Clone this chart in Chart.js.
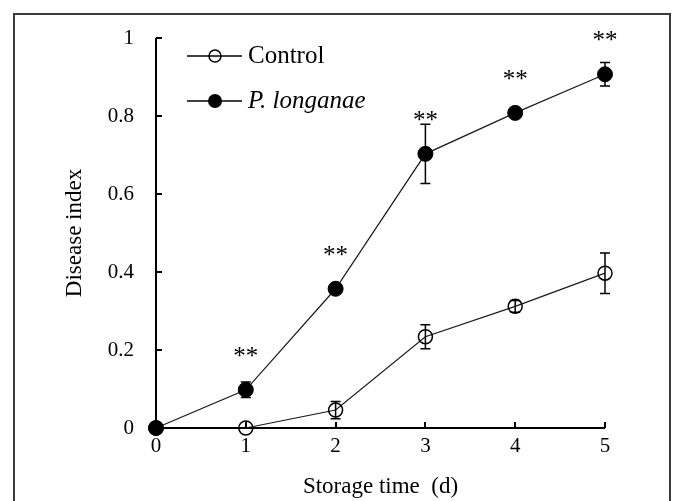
<!DOCTYPE html>
<html>
<head>
<meta charset="utf-8">
<script src="https://cdn.jsdelivr.net/npm/chart.js@4.4.1/dist/chart.umd.min.js"></script>
<style>
html, body { margin: 0; padding: 0; background: #fff; }
#wrap { position: relative; width: 673px; height: 501px; overflow: hidden; }
#frame { position: absolute; left: 13px; top: 13px; width: 658px; height: 540px; border: 2px solid #3a3a3a; box-sizing: border-box; pointer-events: none; }
canvas { position: absolute; left: 0; top: 0; }
</style>
</head>
<body>
<div id="wrap">
  <canvas id="myChart" width="673" height="501"></canvas>
  <div id="frame"></div>
</div>
<script>
// Dados
const days = [0, 1, 2, 3, 4, 5];
const controlMean = [0, 0, 0.046, 0.234, 0.312, 0.397];
const controlErr = [0, 0, 0.022, 0.031, 0.015, 0.052];
const longanaeMean = [0, 0.098, 0.357, 0.703, 0.808, 0.907];
const longanaeErr = [0, 0.02, 0.01, 0.076, 0.008, 0.03];
const signif = ['', '**', '**', '**', '**', '**'];
const yTicks = [0, 0.2, 0.4, 0.6, 0.8, 1];
const yTickLabels = ['0', '0.2', '0.4', '0.6', '0.8', '1'];
const seriesNames = ['Control', 'P. longanae'];
const xTitle = 'Storage time  (d)';
const yTitle = 'Disease index';

const serif = "'Liberation Serif', 'Times New Roman', serif";

function pontos(means) {
    return days.map((d, i) => ({ x: d, y: means[i] }));
}

// Barras de erro
const errorBars = {
    id: 'errorBars',
    afterDatasetsDraw(chart) {
        const ctx = chart.ctx;
        const y = chart.scales.y;
        const errs = [controlErr, longanaeErr];
        const means = [controlMean, longanaeMean];
        ctx.save();
        ctx.strokeStyle = '#000';
        ctx.lineWidth = 1.5;
        chart.data.datasets.forEach((ds, k) => {
            const meta = chart.getDatasetMeta(k);
            meta.data.forEach((pt, i) => {
                const e = errs[k][i];
                if (!e) return;
                const top = y.getPixelForValue(means[k][i] + e);
                const bot = y.getPixelForValue(means[k][i] - e);
                ctx.beginPath();
                ctx.moveTo(pt.x, top); ctx.lineTo(pt.x, bot);
                ctx.moveTo(pt.x - 5, top); ctx.lineTo(pt.x + 5, top);
                ctx.moveTo(pt.x - 5, bot); ctx.lineTo(pt.x + 5, bot);
                ctx.stroke();
            });
        });
        // asteriscos
        ctx.fillStyle = '#000';
        ctx.font = '25px ' + serif;
        ctx.textAlign = 'center';
        ctx.textBaseline = 'alphabetic';
        chart.getDatasetMeta(1).data.forEach((pt, i) => {
            if (signif[i]) ctx.fillText(signif[i], pt.x, pt.y - 26);
        });
        ctx.restore();
    }
};

// Eixos com ticks para dentro, títulos e legenda
const axesAndLegend = {
    id: 'axesAndLegend',
    afterDraw(chart) {
        const ctx = chart.ctx;
        const a = chart.chartArea;
        const xs = chart.scales.x, ys = chart.scales.y;
        ctx.save();
        ctx.strokeStyle = '#000';
        ctx.lineWidth = 2;
        ctx.beginPath();
        ctx.moveTo(a.left, ys.getPixelForValue(1));
        ctx.lineTo(a.left, a.bottom);
        ctx.lineTo(a.right, a.bottom);
        yTicks.forEach(v => {
            const p = Math.round(ys.getPixelForValue(v));
            ctx.moveTo(a.left, p); ctx.lineTo(a.left + 6, p);
        });
        days.forEach(d => {
            const p = Math.round(xs.getPixelForValue(d));
            ctx.moveTo(p, a.bottom); ctx.lineTo(p, a.bottom - 6);
        });
        ctx.stroke();

        // títulos
        ctx.fillStyle = '#000';
        ctx.font = '23px ' + serif;
        ctx.textAlign = 'center';
        ctx.textBaseline = 'middle';
        ctx.fillText(xTitle, (a.left + a.right) / 2, 487);
        ctx.save();
        ctx.translate(75, (a.top + a.bottom) / 2);
        ctx.rotate(-Math.PI / 2);
        ctx.fillText(yTitle, 0, 0);
        ctx.restore();

        // legenda
        const rows = [56, 101];
        rows.forEach((ry, k) => {
            ctx.lineWidth = 1.3;
            ctx.strokeStyle = '#000';
            ctx.beginPath();
            ctx.moveTo(187, ry); ctx.lineTo(242, ry);
            ctx.stroke();
            ctx.beginPath();
            ctx.arc(215, ry, k === 0 ? 6 : 7, 0, Math.PI * 2);
            if (k === 1) { ctx.fillStyle = '#000'; ctx.fill(); }
            else { ctx.lineWidth = 1.5; ctx.stroke(); }
            ctx.fillStyle = '#000';
            ctx.font = (k === 1 ? 'italic ' : '') + '25px ' + serif;
            ctx.textAlign = 'left';
            ctx.textBaseline = 'middle';
            ctx.fillText(seriesNames[k], 248, ry);
        });
        ctx.restore();
    }
};

const ctx = document.getElementById('myChart');

const data = {
    datasets: [{
        label: seriesNames[0],
        data: pontos(controlMean),
        borderColor: '#1a1a1a',
        borderWidth: 1.2,
        pointRadius: 7,
        pointBackgroundColor: 'rgba(0,0,0,0)',
        pointBorderColor: '#000',
        pointBorderWidth: 1.5,
        clip: false
    }, {
        label: seriesNames[1],
        data: pontos(longanaeMean),
        borderColor: '#1a1a1a',
        borderWidth: 1.2,
        pointRadius: 7.5,
        pointBackgroundColor: '#000',
        pointBorderColor: '#000',
        pointBorderWidth: 1,
        clip: false
    }]
};

const config = {
    type: 'line',
    data: data,
    options: {
        responsive: false,
        animation: false,
        layout: { padding: { left: 0, top: 38, right: 68, bottom: 0 } },
        plugins: { legend: { display: false }, tooltip: { enabled: false } },
        scales: {
            x: {
                type: 'linear', min: 0, max: 5,
                grid: { display: false, drawTicks: false },
                border: { display: false },
                ticks: { stepSize: 1, padding: 6, color: '#000', font: { family: serif, size: 21 } },
                afterFit: s => { s.height = 73; }
            },
            y: {
                min: 0, max: 1,
                afterBuildTicks: s => { s.ticks = yTicks.map(v => ({ value: v })); },
                grid: { display: false, drawTicks: false },
                border: { display: false },
                ticks: {
                    padding: 22, color: '#000', font: { family: serif, size: 21 },
                    callback: (v, i) => yTickLabels[i]
                },
                afterFit: s => { s.width = 156; }
            }
        }
    },
    plugins: [errorBars, axesAndLegend]
};

const myChart = new Chart(ctx, config);
</script>
</body>
</html>
